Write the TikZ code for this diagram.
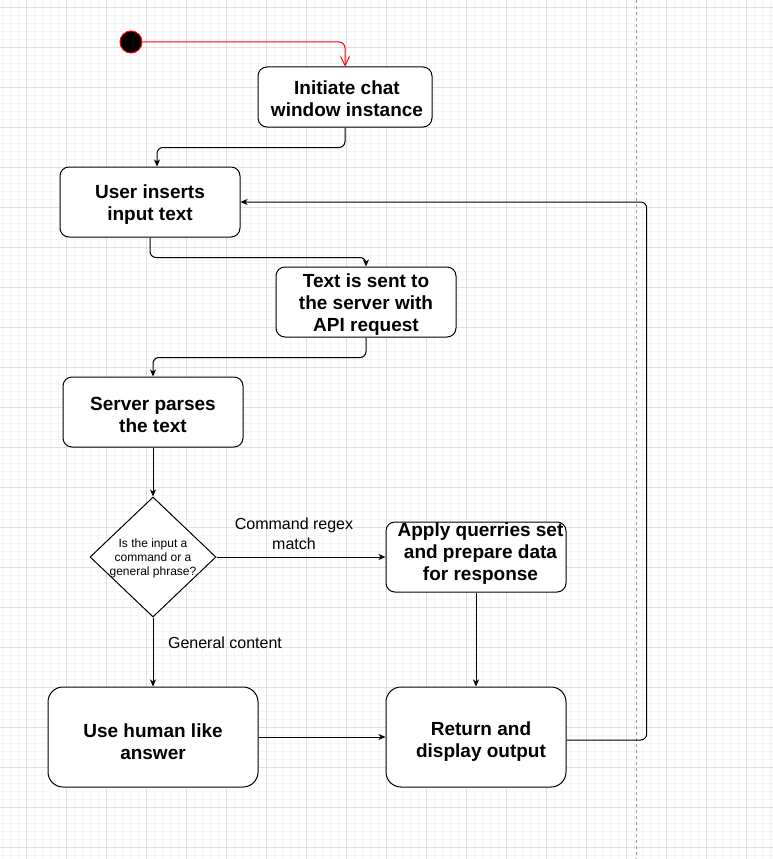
\documentclass[tikz,border=0pt]{standalone}
\usepackage{fontspec}
\setmainfont{Liberation Sans}
\usetikzlibrary{arrows.meta,shapes.geometric,calc}
\definecolor{gridmajor}{HTML}{E0E0E0}
\definecolor{gridminor}{HTML}{F5F5F5}
\definecolor{startred}{HTML}{FF0000}
\tikzset{
  box/.style={draw=black, fill=white, line width=1pt, rounded corners=9pt, inner sep=0pt},
  bigbox/.style={box, rounded corners=15pt},
  boxtext/.style={font=\bfseries\fontsize{19}{22}\selectfont, align=center, inner sep=0pt},
  conn/.style={line width=1pt, rounded corners=6pt, -{Stealth[length=7pt,width=6pt,inset=2pt]}},
  edgelabel/.style={font=\fontsize{16}{20}\selectfont, align=center, inner sep=0pt},
}
\begin{document}
\begin{tikzpicture}[x=1pt,y=-1pt]
\useasboundingbox (0,0) rectangle (773,859);
% grid background
\fill[white] (0,0) rectangle (773,859);
\foreach \i in {0,...,96} {
  \draw[gridminor, line width=0.6pt] ({2.67+8*\i},0) -- ++(0,859);
}
\foreach \i in {0,...,107} {
  \draw[gridminor, line width=0.6pt] (0,{-0.7+8*\i}) -- ++(773,0);
}
\foreach \i in {0,...,19} {
  \draw[gridmajor, line width=0.8pt] ({26.67+40*\i},0) -- ++(0,859);
}
\foreach \i in {0,...,21} {
  \draw[gridmajor, line width=0.8pt] (0,{7.3+40*\i}) -- ++(773,0);
}
% dashed vertical divider
\draw[black!40, line width=0.8pt, dash pattern=on 3pt off 3pt] (636.7,0) -- (636.7,859);

% nodes
\node[circle, fill=black, draw=startred, line width=1pt, minimum size=22pt, inner sep=0pt] (start) at (131,42) {};
\node[box, minimum width=174pt, minimum height=60pt,
  label={[boxtext, xshift=2pt, yshift=-2pt]center:Initiate chat\\window instance}] (init) at (345,97) {};
\node[box, minimum width=180pt, minimum height=70pt,
  label={[boxtext, yshift=-2.5pt]center:User inserts\\input text}] (user) at (150,202) {};
\node[box, minimum width=180pt, minimum height=70pt,
  label={[boxtext, yshift=-2.5pt]center:Text is sent to\\the server with\\API request}] (send) at (366,302) {};
\node[box, minimum width=180pt, minimum height=70pt,
  label={[boxtext, yshift=-2.5pt]center:Server parses\\the text}] (parse) at (153,412) {};
\node[diamond, draw=black, fill=white, line width=1pt, minimum width=126pt, minimum height=120pt, inner sep=0pt,
  label={[align=center, inner sep=0pt, yshift=-1pt, font=\fontsize{12}{14}\selectfont]center:Is the input a\\command or a\\general phrase?}] (dec) at (153,557) {};
\node[box, minimum width=180pt, minimum height=70pt,
  label={[boxtext, xshift=4.5pt, yshift=3pt]center:Apply querries set\\and prepare data\\for response}] (apply) at (476,557) {};
\node[bigbox, minimum width=210pt, minimum height=100pt,
  label={[boxtext, yshift=-5pt]center:Use human like\\answer}] (human) at (153,737) {};
\node[bigbox, minimum width=180pt, minimum height=100pt,
  label={[boxtext, xshift=5pt, yshift=-5pt]center:Return and\\display output}] (ret) at (476,737) {};

% labels
\node[edgelabel] (lblcmd) at (294,534) {Command regex\\match};
\node[edgelabel] (lblgen) at (225,643) {General content};

% connectors
\draw[startred, line width=1pt, rounded corners=6pt, -{Straight Barb[length=9pt,width=9pt]}]
  (start.east) -- (init.north |- start.east) -- (init.north);
\draw[conn] (init.south) -- ++(0,20) -| ([xshift=7pt]user.north);
\draw[conn] (user.south) -- ++(0,20) -| (send.north);
\draw[conn] (send.south) -- ++(0,20) -| (parse.north);
\draw[conn] (parse.south) -- (dec.north);
\draw[conn] (dec.east) -- (apply.west);
\draw[conn] (apply.south) -- (ret.north);
\draw[conn] (dec.south) -- (human.north);
\draw[conn] (human.east) -- (ret.west);
\coordinate (loopcorner) at (646.7,740);
\draw[conn] ([yshift=-3pt]ret.east) -- (loopcorner) |- (user.east);
\end{tikzpicture}
\end{document}
